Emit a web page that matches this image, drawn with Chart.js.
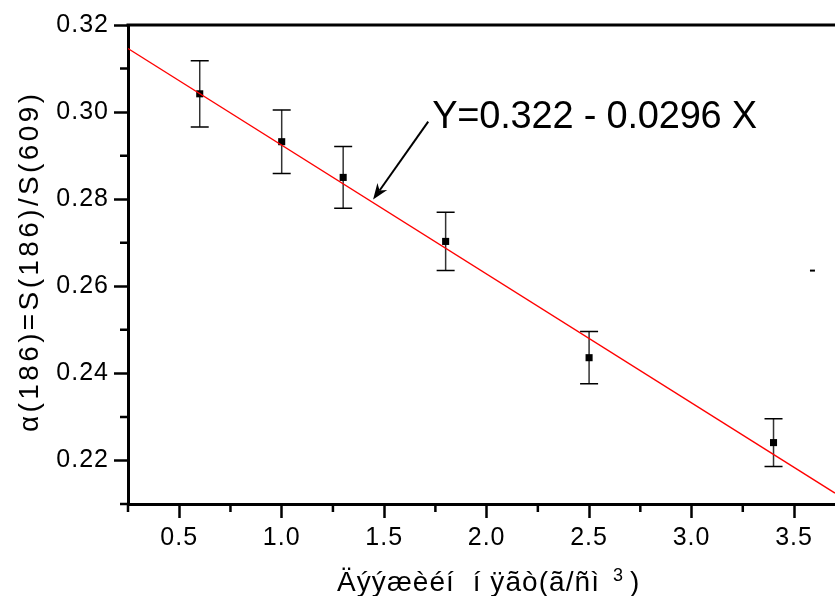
<!DOCTYPE html>
<html>
<head>
<meta charset="utf-8">
<script src="https://cdn.jsdelivr.net/npm/chart.js@4.4.1/dist/chart.umd.min.js"></script>
<style>
  html, body { margin: 0; padding: 0; background: #fff; }
  canvas { display: block; }
</style>
</head>
<body>
<canvas id="chart" width="835" height="596"></canvas>
<script>
// measured points with error bars
const xVals = [0.6, 1.0, 1.3, 1.8, 2.5, 3.4];
const yVals = [0.3042, 0.2932, 0.2850, 0.2703, 0.2436, 0.2241];
const yErr = [0.0076, 0.0073, 0.0071, 0.0067, 0.0060, 0.0055];

// fitted line end points (Y = 0.322 - 0.0296 X)
const fitX = [0.25, 3.7];
const fitY = [0.3146, 0.2125];

// stray mark on the right
const strayX = [3.59];
const strayY = [0.2636];

// axis ticks
const xTicks = [0.5, 1.0, 1.5, 2.0, 2.5, 3.0, 3.5];
const yTicks = [0.22, 0.24, 0.26, 0.28, 0.30, 0.32];
const xMinor = [0.25, 0.75, 1.25, 1.75, 2.25, 2.75, 3.25];
const yMinor = [0.21, 0.23, 0.25, 0.27, 0.29, 0.31];

// texts
const fitLabel = 'Y=0.322 - 0.0296 X';
const xTitle = 'Äýýæèéí  í ÿãò(ã/ñì';
const xTitleSup = '3';
const yTitle = 'α(186)=S(186)/S(609)';

// arrow of the fit label, in data units
const arrowTail = [1.715, 0.2978];
const arrowTip = [1.446, 0.2799];

const FONT = '"Liberation Sans", Arial, sans-serif';

// draw text stretched to a given width with letter spacing
function fitText(ctx, text, x, y, width) {
  ctx.letterSpacing = '0px';
  const w = ctx.measureText(text).width;
  ctx.letterSpacing = ((width - w) / (text.length - 1)) + 'px';
  ctx.fillText(text, x, y);
  ctx.letterSpacing = '0px';
}

const spacingPlugin = {
  id: 'spacing',
  beforeDraw(chart) {
    chart.ctx.letterSpacing = '1px';
  }
};

const errorBars = {
  id: 'errorBars',
  beforeDatasetsDraw(chart) {
    const { ctx, scales: { x, y } } = chart;
    ctx.save();
    ctx.letterSpacing = '0px';
    xVals.forEach((xv, i) => {
      const px = x.getPixelForValue(xv);
      const top = y.getPixelForValue(yVals[i] + yErr[i]);
      const bot = y.getPixelForValue(yVals[i] - yErr[i]);
      ctx.strokeStyle = '#333';
      ctx.lineWidth = 1.5;
      ctx.beginPath();
      ctx.moveTo(px, top);
      ctx.lineTo(px, bot);
      ctx.stroke();
      ctx.strokeStyle = '#000';
      ctx.beginPath();
      ctx.moveTo(px - 9, top);
      ctx.lineTo(px + 9, top);
      ctx.moveTo(px - 9, bot);
      ctx.lineTo(px + 9, bot);
      ctx.stroke();
    });
    ctx.restore();
  }
};

const decorations = {
  id: 'decorations',
  afterDraw(chart) {
    const { ctx, chartArea: area, scales: { x, y } } = chart;
    ctx.save();
    ctx.letterSpacing = '0px';
    ctx.strokeStyle = '#000';

    // top frame line
    ctx.lineWidth = 3;
    ctx.beginPath();
    ctx.moveTo(area.left - 1.5, area.top);
    ctx.lineTo(area.right, area.top);
    ctx.stroke();

    // minor ticks
    ctx.lineWidth = 2.5;
    ctx.beginPath();
    xMinor.forEach(v => {
      const px = x.getPixelForValue(v);
      ctx.moveTo(px, area.bottom);
      ctx.lineTo(px, area.bottom + 8);
    });
    yMinor.forEach(v => {
      const py = y.getPixelForValue(v);
      ctx.moveTo(area.left, py);
      ctx.lineTo(area.left - 8, py);
    });
    ctx.stroke();

    // arrow + fit label
    const tx = x.getPixelForValue(arrowTail[0]);
    const ty = y.getPixelForValue(arrowTail[1]);
    const hx = x.getPixelForValue(arrowTip[0]);
    const hy = y.getPixelForValue(arrowTip[1]);
    const ang = Math.atan2(hy - ty, hx - tx);
    const headLen = 16, headW = 6;
    ctx.lineWidth = 2;
    ctx.beginPath();
    ctx.moveTo(tx, ty);
    ctx.lineTo(hx - Math.cos(ang) * headLen * 0.7, hy - Math.sin(ang) * headLen * 0.7);
    ctx.stroke();
    ctx.fillStyle = '#000';
    ctx.beginPath();
    ctx.moveTo(hx, hy);
    ctx.lineTo(hx - Math.cos(ang) * headLen - Math.sin(ang) * headW,
               hy - Math.sin(ang) * headLen + Math.cos(ang) * headW);
    ctx.lineTo(hx - Math.cos(ang) * headLen * 0.7, hy - Math.sin(ang) * headLen * 0.7);
    ctx.lineTo(hx - Math.cos(ang) * headLen + Math.sin(ang) * headW,
               hy - Math.sin(ang) * headLen - Math.cos(ang) * headW);
    ctx.closePath();
    ctx.fill();

    ctx.font = '38px ' + FONT;
    ctx.textAlign = 'left';
    ctx.textBaseline = 'alphabetic';
    fitText(ctx, fitLabel, tx + 4, ty + 6, 325);

    // x axis title
    ctx.font = '28px ' + FONT;
    fitText(ctx, xTitle, 337, 591, 262);
    ctx.font = '18px ' + FONT;
    ctx.fillText(xTitleSup, 613, 581);
    ctx.font = '28px ' + FONT;
    ctx.fillText(')', 630, 591);

    // y axis title
    ctx.translate(38, 432);
    ctx.rotate(-Math.PI / 2);
    fitText(ctx, yTitle, 0, 0, 338);
    ctx.restore();
  }
};

new Chart(document.getElementById('chart'), {
  type: 'scatter',
  data: {
    datasets: [
      {
        type: 'line',
        data: fitX.map((v, i) => ({ x: v, y: fitY[i] })),
        borderColor: '#ff0000',
        borderWidth: 1.3,
        pointRadius: 0,
        fill: false
      },
      {
        data: xVals.map((v, i) => ({ x: v, y: yVals[i] })),
        pointStyle: 'rect',
        pointRadius: 5,
        pointBorderWidth: 0,
        backgroundColor: '#000',
        borderColor: '#000'
      },
      {
        data: strayX.map((v, i) => ({ x: v, y: strayY[i] })),
        pointStyle: 'line',
        pointRadius: 2.5,
        pointBorderWidth: 2,
        borderColor: '#000'
      }
    ]
  },
  options: {
    responsive: false,
    animation: false,
    layout: { autoPadding: false, padding: { top: 25, right: 0, bottom: 0, left: 0 } },
    plugins: {
      legend: { display: false },
      tooltip: { enabled: false }
    },
    scales: {
      x: {
        type: 'linear',
        min: 0.25,
        max: 3.7,
        afterBuildTicks: s => { s.ticks = xTicks.map(v => ({ value: v })); },
        afterFit: s => { s.height = 92; s.paddingLeft = 0; s.paddingRight = 0; },
        border: { display: true, color: '#000', width: 3 },
        grid: {
          display: true, drawOnChartArea: false, drawTicks: true,
          tickLength: 14, tickWidth: 2.5, tickColor: '#000', color: '#000'
        },
        ticks: {
          padding: 5, color: '#000', maxRotation: 0, autoSkip: false,
          font: { family: FONT, size: 25 },
          callback: v => v.toFixed(1)
        }
      },
      y: {
        type: 'linear',
        min: 0.21,
        max: 0.32,
        afterBuildTicks: s => { s.ticks = yTicks.map(v => ({ value: v })); },
        afterFit: s => { s.width = 128; s.paddingTop = 0; s.paddingBottom = 0; },
        border: { display: true, color: '#000', width: 3 },
        grid: {
          display: true, drawOnChartArea: false, drawTicks: true,
          tickLength: 14, tickWidth: 2.5, tickColor: '#000', color: '#000'
        },
        ticks: {
          padding: 5, color: '#000', autoSkip: false,
          font: { family: FONT, size: 25 },
          callback: v => v.toFixed(2)
        }
      }
    }
  },
  plugins: [spacingPlugin, errorBars, decorations]
});
</script>
</body>
</html>
